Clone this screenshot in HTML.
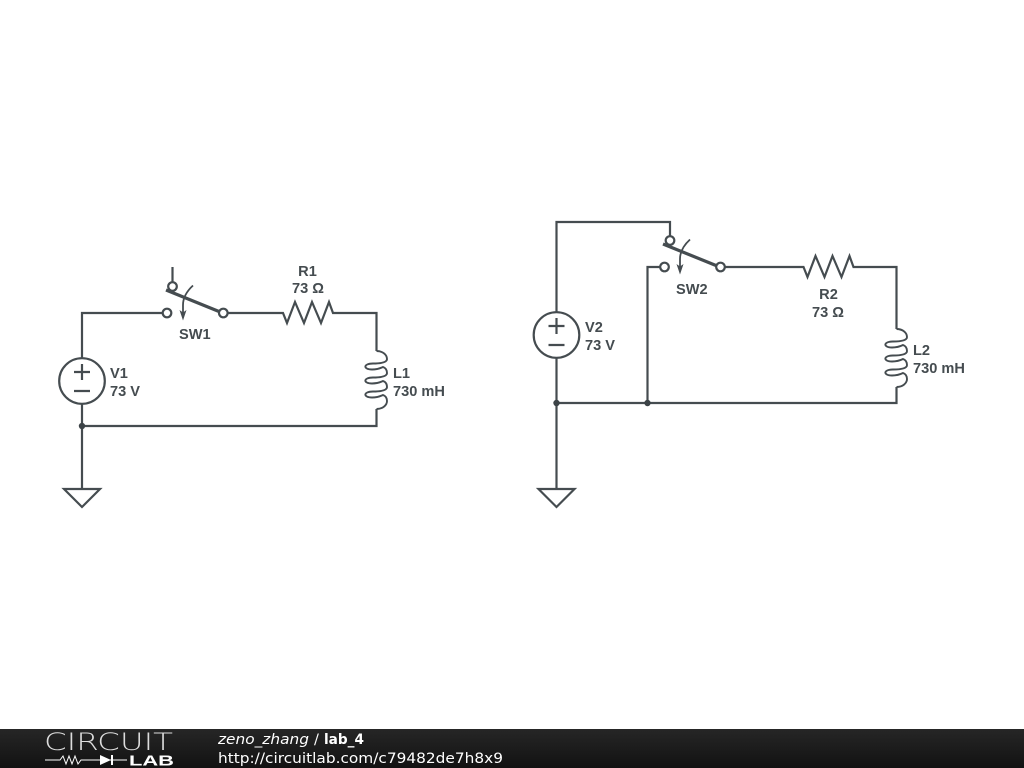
<!DOCTYPE html>
<html><head><meta charset="utf-8"><style>
html,body{margin:0;padding:0;background:#fff;width:1024px;height:768px;overflow:hidden}
svg{display:block}
.w{fill:none;stroke:#454c50;stroke-width:2.200}
.l{fill:none;stroke:#454c50;stroke-width:1.900}
.a{fill:none;stroke:#454c50;stroke-width:1.800}
.h{fill:#454c50}
.b{fill:none;stroke:#454c50;stroke-width:3.200}
.t{font:bold 14.600px "Liberation Sans",sans-serif;fill:#454c50}
.m{text-anchor:middle}
</style></head><body>
<svg width="1024" height="768" viewBox="0 0 1024 768" xmlns="http://www.w3.org/2000/svg">
<defs>
<linearGradient id="g" x1="0" y1="0" x2="0" y2="1"><stop offset="0" stop-color="#262626"/><stop offset="1" stop-color="#121212"/></linearGradient>
</defs>
<rect width="1024" height="768" fill="#fff"/>

<!-- Circuit 1 -->
<path class="w" d="M82 358V313H162.500M172.500 267V282M227.500 313H283L287 323 295 302 304 323 312 302 321 323 329 302 333 313H376.500V351"/>
<path class="l" d="M376.500 351C383 351 387 355 387 359C387 362 382 363.500 373 363.500C363 363.500 363 369.500 372 369.500C377 369.500 381 368 383 367C386 368 387 370 387 373C387 376 382 377.500 373 377.500C363 377.500 363 383.500 372 383.500C377 383.500 381 382 383 381C386 382 387 384 387 387C387 390 382 391.500 373 391.500C363 391.500 363 397.500 372 397.500C377 397.500 381 396 383 395C386 396 387 398 387 401C387 405 383 409 376.500 409"/>
<path class="w" d="M376.500 409V426H82"/>
<path class="w" d="M82 404V489"/>
<circle class="w" cx="82" cy="381" r="22.800"/>
<path class="w" d="M74 372H90M82 364V380M74 391H90"/>
<circle class="w" cx="167" cy="313" r="4.300"/>
<circle class="w" cx="172.500" cy="286.500" r="4.300"/>
<circle class="w" cx="223.300" cy="313" r="4.300"/>
<path class="b" d="M166 290L219 311.500"/>
<path class="a" d="M193 285.500C187 291 183 297 183 305V314"/>
<path class="h" d="M179.500 310L183 320.500 186.500 310 183 312.500Z"/>
<circle cx="82" cy="426" r="3.200" fill="#3c4347"/>
<path class="w" d="M64 489H100L82 507Z"/>
<text class="t" x="110" y="378">V1</text>
<text class="t" x="110" y="396">73 V</text>
<text class="t m" x="307.500" y="276">R1</text>
<text class="t m" x="308" y="293">73 Ω</text>
<text class="t" x="179" y="339">SW1</text>
<text class="t" x="393" y="378">L1</text>
<text class="t" x="393" y="396">730 mH</text>

<!-- Circuit 2 -->
<g transform="translate(0.500,0)">
<path class="w" d="M556 312V222H669.500V236M647 403V267H659.500M724 267H803L807 277 815 256 824 277 832 256 841 277 849 256 853 267H896V329"/>
<path class="w" d="M896 387V403H556"/>
<path class="w" d="M556 358V489"/>
<circle class="w" cx="556" cy="335" r="22.800"/>
<path class="w" d="M548 326H564M556 318V334M548 345H564"/>
<circle class="w" cx="664" cy="267" r="4.300"/>
<circle class="w" cx="669.500" cy="240.500" r="4.300"/>
<circle class="w" cx="720" cy="267" r="4.300"/>
<path class="b" d="M662.500 244L715.500 265.500"/>
<path class="a" d="M689.500 239.500C683.500 245 679.500 251 679.500 259V268"/>
<path class="h" d="M676 264L679.500 274.500 683 264 679.500 266.500Z"/>
<circle cx="556" cy="403" r="3.200" fill="#3c4347"/>
<circle cx="647" cy="403" r="3.200" fill="#3c4347"/>
<path class="w" d="M538 489H574L556 507Z"/>
</g>
<path class="l" transform="translate(520,-22)" d="M376.500 351C383 351 387 355 387 359C387 362 382 363.500 373 363.500C363 363.500 363 369.500 372 369.500C377 369.500 381 368 383 367C386 368 387 370 387 373C387 376 382 377.500 373 377.500C363 377.500 363 383.500 372 383.500C377 383.500 381 382 383 381C386 382 387 384 387 387C387 390 382 391.500 373 391.500C363 391.500 363 397.500 372 397.500C377 397.500 381 396 383 395C386 396 387 398 387 401C387 405 383 409 376.500 409"/>
<text class="t" x="585" y="332">V2</text>
<text class="t" x="585" y="350">73 V</text>
<text class="t" x="676" y="294">SW2</text>
<text class="t m" x="828.500" y="299">R2</text>
<text class="t m" x="828" y="317">73 Ω</text>
<text class="t" x="913" y="355">L2</text>
<text class="t" x="913" y="373">730 mH</text>

<!-- Footer -->
<rect y="729" width="1024" height="39" fill="url(#g)"/>
<text x="44" y="750" font-family="DejaVu Sans ExtraLight,DejaVu Sans,sans-serif" font-weight="200" font-size="24" fill="#ddd" textLength="129" lengthAdjust="spacingAndGlyphs">CIRCUIT</text>
<path fill="none" stroke="#fff" stroke-width="1" d="M45 760H60L63 756 66 764 69 756 72 764 75 756 78 764 81 760H127"/>
<path fill="#fff" d="M100 755L111 760 100 765ZM111 755h2v10h-2z"/>
<text x="129" y="765.500" font-family="Liberation Sans,sans-serif" font-weight="bold" font-size="15" fill="#fff" textLength="45" lengthAdjust="spacingAndGlyphs">LAB</text>
<text x="218" y="744" font-family="DejaVu Sans,sans-serif" font-size="14.500" font-style="italic" fill="#fff" textLength="91" lengthAdjust="spacingAndGlyphs">zeno_zhang</text>
<text x="314" y="744" font-family="DejaVu Sans,sans-serif" font-size="14.500" fill="#fff">/</text>
<text x="324" y="744" font-family="DejaVu Sans,sans-serif" font-size="14.500" font-weight="bold" fill="#fff" textLength="40" lengthAdjust="spacingAndGlyphs">lab_4</text>
<text x="218" y="763" font-family="DejaVu Sans,sans-serif" font-size="14.500" fill="#fff" textLength="285" lengthAdjust="spacingAndGlyphs">http://circuitlab.com/c79482de7h8x9</text>
</svg>
</body></html>
